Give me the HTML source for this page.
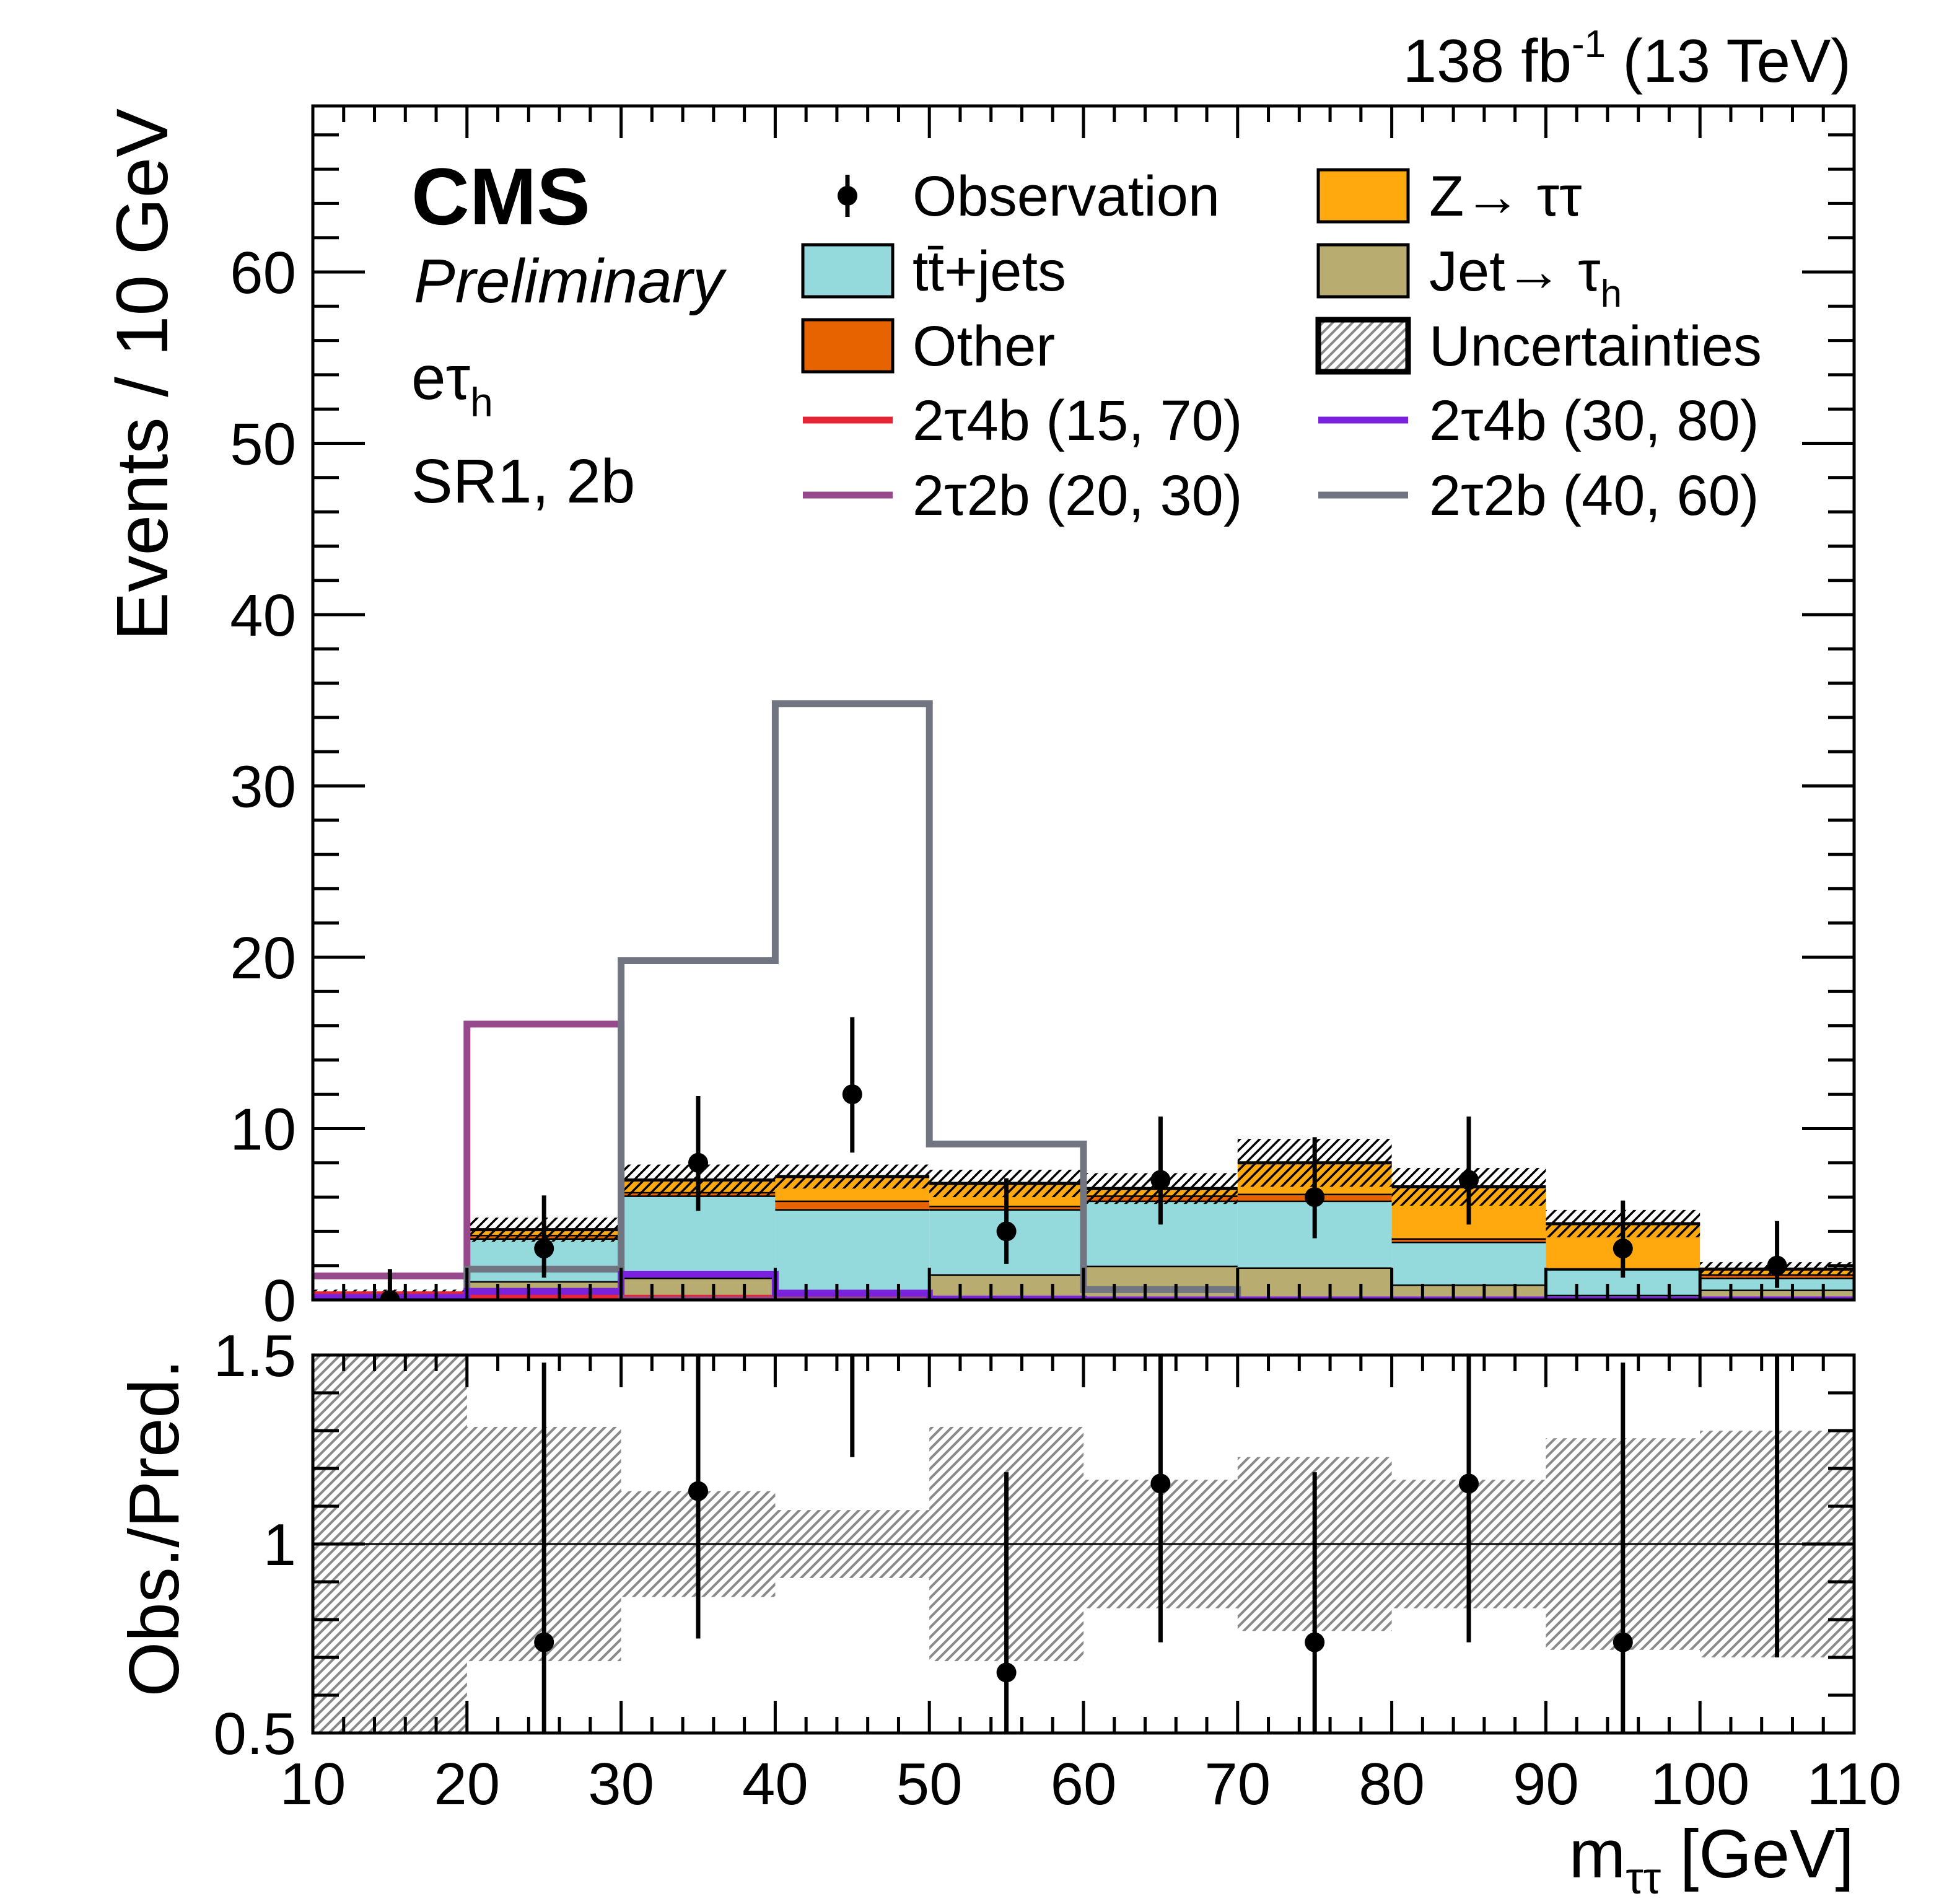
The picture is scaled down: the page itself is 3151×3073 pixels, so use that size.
<!DOCTYPE html>
<html><head><meta charset="utf-8"><style>
html,body{margin:0;padding:0;background:#fff;}
svg{display:block;font-family:"Liberation Sans",sans-serif;}
</style></head><body>
<svg id="chart" xmlns="http://www.w3.org/2000/svg" width="3151" height="3073" viewBox="0 0 3151 3073">
<defs>
<pattern id="hatchBlack" patternUnits="userSpaceOnUse" width="16" height="16">
<path d="M-4,4 L4,-4 M0,16 L16,0 M12,20 L20,12" stroke="#000" stroke-width="3.5"/>
</pattern>
<pattern id="hatchGrey" patternUnits="userSpaceOnUse" width="16" height="16">
<path d="M-4,4 L4,-4 M0,16 L16,0 M12,20 L20,12" stroke="#8a8a8a" stroke-width="4"/>
</pattern>
<clipPath id="clipTop"><rect x="505" y="171" width="2488" height="1927"/></clipPath>
<clipPath id="clipRat"><rect x="505" y="2187" width="2488" height="610"/></clipPath>
</defs>
<g id="top-plot" clip-path="url(#clipTop)"></g>
<g id="rat-plot" clip-path="url(#clipRat)"></g>
<g id="axes"></g>
<g id="texts">
<text x="2988" y="132" font-size="98" text-anchor="end">138 fb<tspan font-size="62" dy="-40">-1</tspan><tspan dy="40"> (13 TeV)</tspan></text>
<text x="664" y="362" font-size="130" font-weight="bold">CMS</text>
<text x="668" y="488" font-size="100" font-style="italic">Preliminary</text>
<text x="664" y="644" font-size="100">eτ<tspan font-size="66" dy="28">h</tspan></text>
<text x="664" y="811" font-size="100">SR1, 2b</text>
<text transform="translate(270,175) rotate(-90)" font-size="118" text-anchor="end">Events / 10 GeV</text>
<text transform="translate(288,2466) rotate(-90)" font-size="114" text-anchor="middle">Obs./Pred.</text>
<text x="2993" y="3030" font-size="110" text-anchor="end">m<tspan font-size="72" dy="26">ττ</tspan><tspan dy="-26"> [GeV]</tspan></text>
</g>
<g id="legend">
<text x="1473" y="348" font-size="92">Observation</text>
<text x="1473" y="469" font-size="92">tt̄+jets</text>
<text x="1473" y="590" font-size="92">Other</text>
<text x="1473" y="710" font-size="92">2τ4b (15, 70)</text>
<text x="1473" y="831" font-size="92">2τ2b (20, 30)</text>
<text x="2307" y="348" font-size="92">Z→ ττ</text>
<text x="2307" y="469" font-size="92">Jet→ τ<tspan font-size="62" dy="26">h</tspan></text>
<text x="2307" y="590" font-size="92">Uncertainties</text>
<text x="2307" y="710" font-size="92">2τ4b (30, 80)</text>
<text x="2307" y="831" font-size="92">2τ2b (40, 60)</text>
</g>
</svg>
<script>
var binEdges=[10,20,30,40,50,60,70,80,90,100,110];
var jetFake=[0.1,1.1,1.3,0.5,1.5,2.0,1.9,0.9,0.3,0.6];
var ttJets=[0.1,2.5,4.8,4.8,3.8,3.8,3.9,2.5,1.5,0.7];
var otherBkg=[0.05,0.2,0.2,0.5,0.2,0.3,0.4,0.2,0.05,0.2];
var zTauTau=[0.05,0.3,0.7,1.4,1.3,0.4,1.8,3.0,2.6,0.3];
var absUnc=[0.3,0.7,0.9,0.7,0.8,0.9,1.4,1.1,0.8,0.4];
var relUnc=[1.0,0.31,0.14,0.09,0.31,0.17,0.23,0.17,0.28,0.30];
var sig4b1570=[0.3,0.15,0.1,0.1,0,0,0,0,0,0];
var sig4b3080=[0.15,0.5,1.5,0.4,0.05,0,0,0,0,0];
var sig2b2030=[1.4,16.1,0,0,0,0,0,0,0,0];
var sig2b4060=[0,1.8,19.8,34.8,9.1,0.6,0,0,0,0];
var obsVals=[0,3,8,12,4,7,6,7,3,2];
var obsErrUp=[1.8,3.1,3.9,4.5,3.1,3.7,3.5,3.7,2.8,2.6];
var obsErrDn=[0,1.7,2.8,3.4,1.9,2.6,2.4,2.6,1.7,1.3];
var ratioVals=[null,0.74,1.14,1.67,0.66,1.16,0.74,1.16,0.74,1.6];
var ratioErrUp=[null,0.74,0.9,1.0,0.53,0.8,0.45,0.8,0.74,1.0];
var ratioErrDn=[null,0.74,0.39,0.44,0.66,0.42,0.74,0.42,0.74,0.9];
var yTicksTop=[0,10,20,30,40,50,60];
var xTicks=[10,20,30,40,50,60,70,80,90,100,110];
var ratioTicks=[0.5,1,1.5];
var ratioTickLabels=["0.5","1","1.5"];

(function(){
var NS="http://www.w3.org/2000/svg";
var X0=505,X1=2993,YT0=2098,YTtop=171,YR0=2797,YR1=2187;
var YMAX=(YT0-YTtop)/27.65;
function xs(v){return X0+(v-10)/100*(X1-X0);}
function ys(v){return YT0-(v/YMAX)*(YT0-YTtop);}
function yr(v){return YR0-(v-0.5)*(YR0-YR1);}
function mk(tag,attrs,parent){var e=document.createElementNS(NS,tag);for(var k in attrs)e.setAttribute(k,String(attrs[k]));parent.appendChild(e);return e;}
var topG=document.getElementById('top-plot'),rat=document.getElementById('rat-plot'),ax=document.getElementById('axes'),leg=document.getElementById('legend');
var i,k;
var comps=[[jetFake,'#b9ac70','stack-jet-fake'],[ttJets,'#94d9dc','stack-ttbar'],[otherBkg,'#e76300','stack-other'],[zTauTau,'#ffa90e','stack-ztautau']];
var cum=[0,0,0,0,0,0,0,0,0,0];
comps.forEach(function(c){
  var arr=c[0],col=c[1],name=c[2];
  for(var j=0;j<arr.length;j++){
    var lo=cum[j],hi=cum[j]+arr[j];
    var r=mk('rect',{x:xs(binEdges[j]),y:ys(hi),width:xs(binEdges[j+1])-xs(binEdges[j]),height:ys(lo)-ys(hi),fill:col},topG);
    
    
    cum[j]=hi;
    var l=mk('line',{x1:xs(binEdges[j]),x2:xs(binEdges[j+1]),y1:ys(hi),y2:ys(hi),stroke:'#000','stroke-width':5},topG);
    
    
  }
});
for(i=0;i<cum.length;i++){
  var u=absUnc[i];
  var h=mk('rect',{x:xs(binEdges[i]),y:ys(cum[i]+u),width:xs(binEdges[i+1])-xs(binEdges[i]),height:ys(Math.max(0,cum[i]-u))-ys(cum[i]+u),fill:'url(#hatchBlack)'},topG);
  
  
  var lo=Math.max(0.5,1-relUnc[i]),hi=Math.min(1.5,1+relUnc[i]);
  var r=mk('rect',{x:xs(binEdges[i]),y:yr(hi),width:xs(binEdges[i+1])-xs(binEdges[i]),height:yr(lo)-yr(hi),fill:'url(#hatchGrey)'},rat);
  
  
}
function stepPath(arr){var d='M'+xs(binEdges[0])+','+ys(arr[0]);for(var j=0;j<arr.length;j++){d+=' L'+xs(binEdges[j])+','+ys(arr[j])+' L'+xs(binEdges[j+1])+','+ys(arr[j]);}return d;}
var sigs=[[sig4b1570,'#e42536','signal-2tau4b-15-70'],[sig2b2030,'#964a8b','signal-2tau2b-20-30'],[sig2b4060,'#717581','signal-2tau2b-40-60'],[sig4b3080,'#7a21dd','signal-2tau4b-30-80']];
sigs.forEach(function(s){
  var p=mk('path',{d:stepPath(s[0]),fill:'none',stroke:s[1],'stroke-width':11},topG);
  
  
});
for(i=0;i<obsVals.length;i++){
  var cx=xs((binEdges[i]+binEdges[i+1])/2);
  var l=mk('line',{x1:cx,x2:cx,y1:ys(obsVals[i]+obsErrUp[i]),y2:ys(obsVals[i]-obsErrDn[i]),stroke:'#000','stroke-width':7},topG);
  
  
  var c=mk('circle',{cx:cx,cy:ys(obsVals[i]),r:16,fill:'#000'},topG);
  
  
}
var one=mk('line',{x1:X0,x2:X1,y1:yr(1),y2:yr(1),stroke:'#000','stroke-width':3},rat);


for(i=0;i<ratioVals.length;i++){
  if(ratioVals[i]===null)continue;
  var cx2=xs((binEdges[i]+binEdges[i+1])/2);
  var l2=mk('line',{x1:cx2,x2:cx2,y1:yr(ratioVals[i]+ratioErrUp[i]),y2:yr(ratioVals[i]-ratioErrDn[i]),stroke:'#000','stroke-width':7},rat);
  
  
  var c2=mk('circle',{cx:cx2,cy:yr(ratioVals[i]),r:16,fill:'#000'},rat);
  
  
}
[[YTtop,YT0],[YR1,YR0]].forEach(function(ab){
  var f=mk('rect',{x:X0,y:ab[0],width:X1-X0,height:ab[1]-ab[0],fill:'none',stroke:'#000','stroke-width':5},ax);
  
  
});
var tk='';
for(var v=10;v<=110;v+=2){
  var x=xs(v),L=(v%10===0)?52:26;
  tk+='M'+x+','+YTtop+' v'+L+' M'+x+','+YT0+' v'+(-L)+' M'+x+','+YR1+' v'+L+' M'+x+','+YR0+' v'+(-L)+' ';
}
for(v=0;v<=68;v+=2){
  var y=ys(v),L2=(v%10===0)?84:42;
  tk+='M'+X0+','+y+' h'+L2+' M'+X1+','+y+' h'+(-L2)+' ';
}
for(k=5;k<=15;k++){
  var y3=yr(k/10),L3=(k%5===0)?84:42;
  tk+='M'+X0+','+y3+' h'+L3+' M'+X1+','+y3+' h'+(-L3)+' ';
}
var tp=mk('path',{d:tk,stroke:'#000','stroke-width':5,fill:'none'},ax);


yTicksTop.forEach(function(val){
  var t=mk('text',{x:478,y:ys(val)+34,'font-size':96,'text-anchor':'end'},ax);t.textContent=String(val);
  
  
});
ratioTicks.forEach(function(val,j){
  var t=mk('text',{x:478,y:yr(val)+34,'font-size':96,'text-anchor':'end'},ax);t.textContent=ratioTickLabels[j];
  
  
});
xTicks.forEach(function(val){
  var t=mk('text',{x:xs(val),y:2912,'font-size':96,'text-anchor':'middle'},ax);t.textContent=String(val);
  
  
});
var rowsY=[316,437,558,678,799];
function legBox(x,y,fill,name,thick){var r=mk('rect',{x:x,y:y-42,width:145,height:84,fill:fill,stroke:'#000','stroke-width':thick||5},leg);
  
  }
function legLine(x,y,col,name){var l=mk('line',{x1:x,x2:x+145,y1:y,y2:y,stroke:col,'stroke-width':11},leg);
  
  }
var c1=1296,cc2=2128;
var om=mk('line',{x1:c1+72,x2:c1+72,y1:rowsY[0]-34,y2:rowsY[0]+34,stroke:'#000','stroke-width':7},leg);


var oc=mk('circle',{cx:c1+72,cy:rowsY[0],r:16,fill:'#000'},leg);


legBox(c1,rowsY[1],'#94d9dc','legend-ttbar-swatch');
legBox(c1,rowsY[2],'#e76300','legend-other-swatch');
legLine(c1,rowsY[3],'#e42536','legend-2tau4b-15-70-swatch');
legLine(c1,rowsY[4],'#964a8b','legend-2tau2b-20-30-swatch');
legBox(cc2,rowsY[0],'#ffa90e','legend-ztautau-swatch');
legBox(cc2,rowsY[1],'#b9ac70','legend-jet-fake-swatch');
legBox(cc2,rowsY[2],'url(#hatchGrey)','legend-uncertainty-swatch',9);
legLine(cc2,rowsY[3],'#7a21dd','legend-2tau4b-30-80-swatch');
legLine(cc2,rowsY[4],'#717581','legend-2tau2b-40-60-swatch');
})();
</script>
</body></html>
